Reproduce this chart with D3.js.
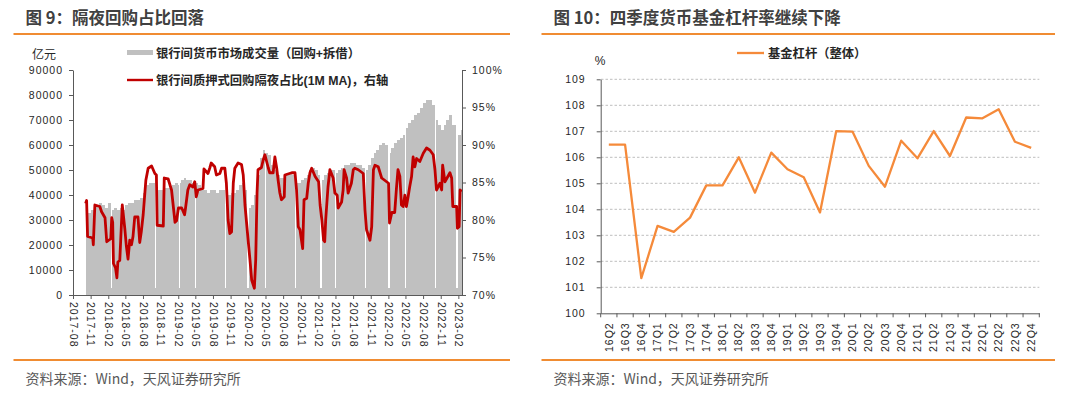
<!DOCTYPE html>
<html>
<head>
<meta charset="utf-8">
<script src="https://cdn.jsdelivr.net/npm/d3@7"></script>
<style>
body { margin: 0; background: #fff; }
svg text { font-family: "Liberation Sans", Arial, "Noto Sans CJK SC", sans-serif; fill: #262626; }
.cn { font-family: "Noto Sans CJK SC", sans-serif; }
.tick text { font-size: 10.5px; letter-spacing: 1px; }
.axis path, .axis line { stroke: #595959; }
</style>
</head>
<body>
<svg id="chart" width="1080" height="393"></svg>
<script>
// ---- figure 9: interbank volume (bars) + overnight share (line)
var volDates = ["2017-10-08","2017-10-16","2017-11-01","2017-11-16","2017-12-01","2017-12-16","2018-01-01","2018-01-16",
  "2018-02-01","2018-02-15","2018-02-22","2018-03-01","2018-03-16","2018-04-01","2018-04-16","2018-05-01","2018-05-16",
  "2018-06-01","2018-06-16","2018-07-01","2018-07-16","2018-08-01","2018-08-16","2018-09-01","2018-09-16","2018-10-01",
  "2018-10-08","2018-10-16","2018-11-01","2018-11-16","2018-12-01","2018-12-16","2019-01-01","2019-01-16","2019-02-01",
  "2019-02-04","2019-02-11","2019-02-16","2019-03-01","2019-03-16","2019-04-01","2019-04-16","2019-05-01","2019-05-05",
  "2019-05-16","2019-06-01","2019-06-16","2019-07-01","2019-07-16","2019-08-01","2019-08-16","2019-09-01","2019-09-16",
  "2019-10-01","2019-10-08","2019-10-16","2019-11-01","2019-11-16","2019-12-01","2019-12-16","2020-01-01","2020-01-16",
  "2020-01-24","2020-02-03","2020-02-16","2020-03-01","2020-03-16","2020-04-01","2020-04-16","2020-05-01","2020-05-06",
  "2020-05-16","2020-06-01","2020-06-16","2020-07-01","2020-07-16","2020-08-01","2020-08-16","2020-09-01","2020-09-16",
  "2020-10-01","2020-10-09","2020-10-16","2020-11-01","2020-11-16","2020-12-01","2020-12-16","2021-01-01","2021-01-16",
  "2021-02-01","2021-02-11","2021-02-18","2021-03-01","2021-03-16","2021-04-01","2021-04-16","2021-05-01","2021-05-06",
  "2021-05-16","2021-06-01","2021-06-16","2021-07-01","2021-07-16","2021-08-01","2021-08-16","2021-09-01","2021-09-16",
  "2021-10-01","2021-10-08","2021-10-16","2021-11-01","2021-11-16","2021-12-01","2021-12-16","2022-01-01","2022-01-16",
  "2022-01-31","2022-02-07","2022-02-16","2022-03-01","2022-03-16","2022-04-01","2022-04-16","2022-04-30","2022-05-05",
  "2022-05-16","2022-06-01","2022-06-16","2022-07-01","2022-07-16","2022-08-01","2022-08-16","2022-09-01","2022-09-16",
  "2022-10-01","2022-10-08","2022-10-16","2022-11-01","2022-11-16","2022-12-01","2022-12-16","2023-01-01","2023-01-21",
  "2023-01-28","2023-02-01","2023-02-16"];
var volValues = [36000,33000,34000,35000,36000,37000,36000,35000,
  37000,3000,34000,35000,34000,35000,34000,36000,37000,
  37000,38000,38000,39000,41000,44000,45000,45000,3000,
  43000,42000,42000,43000,43000,43000,44000,45000,44000,
  3000,45000,46000,47000,46000,46000,45000,3000,45000,
  44000,42000,42000,41000,42000,42000,41000,42000,42000,
  3000,40000,40000,41000,41000,42000,44000,45000,42000,
  3000,35000,36000,40000,48000,55000,58000,3000,57000,
  56000,52000,50000,48000,47000,47000,48000,49000,48000,
  3000,45000,45000,46000,47000,48000,50000,51000,50000,
  48000,3000,46000,48000,49000,50000,50000,3000,49000,
  50000,51000,52000,52000,53000,53000,52000,52000,51000,
  3000,50000,52000,55000,57000,58000,60000,61000,60000,
  3000,57000,59000,61000,62000,63000,64000,3000,67000,
  69000,70000,72000,73000,75000,77000,78000,78000,76000,
  3000,70000,68000,66000,68000,70000,72000,68000,3000,
  62000,64000,66000];
var volEnd = "2023-02-20";

var ovnDates = ["2017-10-06","2017-10-11","2017-10-16","2017-11-12","2017-11-15","2017-11-23","2017-12-19","2017-12-28",
  "2018-01-15","2018-01-24","2018-02-14","2018-02-19","2018-02-24","2018-02-28","2018-03-11","2018-03-18","2018-03-23",
  "2018-04-02","2018-04-10","2018-04-15","2018-04-28","2018-05-06","2018-05-15","2018-05-24","2018-06-02","2018-06-10",
  "2018-06-19","2018-07-06","2018-07-15","2018-07-23","2018-08-02","2018-08-16","2018-08-28","2018-09-15","2018-10-02",
  "2018-10-10","2018-10-14","2018-11-15","2018-11-20","2018-12-10","2018-12-28","2019-01-15","2019-01-23","2019-02-02",
  "2019-02-19","2019-03-06","2019-03-11","2019-03-23","2019-04-02","2019-04-19","2019-04-28","2019-05-06","2019-05-15",
  "2019-06-10","2019-06-15","2019-07-06","2019-07-15","2019-07-23","2019-08-10","2019-08-19","2019-09-06","2019-09-15",
  "2019-10-02","2019-10-10","2019-10-19","2019-10-28","2019-11-06","2019-11-15","2019-11-23","2019-12-10","2019-12-28",
  "2020-01-06","2020-01-15","2020-02-02","2020-02-10","2020-02-19","2020-03-04","2020-03-11","2020-03-18","2020-03-23",
  "2020-04-10","2020-04-19","2020-04-28","2020-05-15","2020-05-23","2020-06-10","2020-06-19","2020-06-28","2020-07-06",
  "2020-07-15","2020-07-23","2020-08-07","2020-08-10","2020-09-15","2020-10-02","2020-10-10","2020-10-19","2020-10-28",
  "2020-11-11","2020-11-18","2020-12-02","2020-12-10","2020-12-19","2020-12-28","2021-01-15","2021-02-02","2021-02-10",
  "2021-02-19","2021-02-28","2021-03-06","2021-03-11","2021-03-23","2021-04-02","2021-04-19","2021-04-28","2021-05-10",
  "2021-05-15","2021-06-02","2021-06-10","2021-06-15","2021-06-28","2021-07-06","2021-07-23","2021-08-02","2021-08-10",
  "2021-08-28","2021-09-23","2021-10-02","2021-10-10","2021-10-28","2021-11-06","2021-11-15","2021-11-23","2021-12-10",
  "2021-12-28","2022-02-02","2022-02-07","2022-02-19","2022-03-06","2022-03-15","2022-03-23","2022-04-02","2022-04-10",
  "2022-04-19","2022-04-28","2022-05-06","2022-05-15","2022-05-23","2022-06-02","2022-06-10","2022-06-19","2022-06-28",
  "2022-07-15","2022-08-02","2022-08-19","2022-09-06","2022-09-23","2022-10-02","2022-10-10","2022-10-28","2022-11-06",
  "2022-11-11","2022-11-23","2022-12-19","2022-12-28","2023-01-03","2023-01-23","2023-01-27","2023-02-05","2023-02-10",
  "2023-02-19"];
var ovnValues = [82.2,82.6,77.8,77.6,76.7,82.0,81.8,81.1,
  80.3,77.1,77.5,80.3,79.7,74.2,73.6,72.3,74.4,
  74.6,79.1,82.0,78.9,76.6,74.8,77.3,76.7,77.8,
  80.4,80.4,77.0,78.4,80.7,85.3,86.9,87.2,86.2,
  86.0,79.3,79.2,85.6,85.5,84.0,79.7,79.9,81.6,
  81.6,80.7,81.6,84.0,84.7,84.4,85.1,83.1,84.0,
  84.2,86.8,86.2,86.9,87.6,87.1,86.0,86.2,86.9,
  86.9,84.9,80.0,78.2,78.4,84.9,86.9,87.6,87.4,
  86.0,82.0,76.9,74.7,72.0,70.9,74.7,83.6,86.7,
  87.0,88.0,88.7,87.0,86.3,86.3,88.4,87.0,85.3,
  83.6,82.7,83.1,86.0,86.3,86.3,84.0,79.1,78.7,
  76.2,82.7,82.9,84.9,86.3,86.9,85.8,85.1,82.0,
  80.0,77.3,77.1,80.0,84.4,86.7,85.6,83.6,83.3,
  81.6,82.4,84.0,86.7,85.6,83.6,84.9,86.7,86.9,
  86.7,86.2,81.3,78.7,77.3,79.1,86.7,87.3,87.1,
  85.6,84.9,79.6,81.0,81.0,84.2,86.7,85.8,82.0,
  81.8,83.3,81.8,83.1,84.4,85.8,88.4,87.1,88.2,
  87.8,88.9,89.6,89.3,88.7,86.7,84.0,84.9,84.0,
  87.3,85.1,86.3,85.6,81.8,81.8,78.9,79.1,84.0,
  83.8];

var xTickLabels = ["2017-08","2017-11","2018-02","2018-05","2018-08","2018-11","2019-02","2019-05","2019-08",
  "2019-11","2020-02","2020-05","2020-08","2020-11","2021-02","2021-05","2021-08","2021-11","2022-02",
  "2022-05","2022-08","2022-11","2023-02"];
var volTicks = [0,10000,20000,30000,40000,50000,60000,70000,80000,90000];
var pctTicks = [70,75,80,85,90,95,100];

// ---- figure 10: money fund leverage
var quarters = ["16Q2","16Q3","16Q4","17Q1","17Q2","17Q3","17Q4","18Q1","18Q2","18Q3","18Q4",
  "19Q1","19Q2","19Q3","19Q4","20Q1","20Q2","20Q3","20Q4","21Q1","21Q2","21Q3","21Q4",
  "22Q1","22Q2","22Q3","22Q4"];
var leverage = [106.49,106.49,101.35,103.36,103.13,103.68,104.92,104.92,106.0,104.64,106.18,
  105.54,105.23,103.88,107.01,106.99,105.67,104.87,106.64,105.96,107.01,106.05,107.53,
  107.5,107.85,106.6,106.36];
var levTicks = [100,101,102,103,104,105,106,107,108,109];

var svg = d3.select("#chart");
var parse = d3.timeParse("%Y-%m-%d");
var orange = "#F08C32";

// headers and footers
function frame(x0, x1, tx, title) {
  svg.append("text").attr("class", "cn").attr("x", tx).attr("y", 23.5)
    .style("font-size", "16.5px").style("font-weight", "bold").style("fill", "#404040").text(title);
  svg.append("line").attr("x1", x0).attr("x2", x1).attr("y1", 34).attr("y2", 34)
    .attr("stroke", orange).attr("stroke-width", 2);
  svg.append("line").attr("x1", x0).attr("x2", x1).attr("y1", 360).attr("y2", 360)
    .attr("stroke", orange).attr("stroke-width", 2);
  svg.append("text").attr("class", "cn").attr("x", tx).attr("y", 384)
    .style("font-size", "14px").style("fill", "#595959").text("资料来源：Wind，天风证券研究所");
}
frame(13.5, 510, 25.5, "图 9：隔夜回购占比回落");
frame(541.5, 1055, 553.5, "图 10：四季度货币基金杠杆率继续下降");

// ===== left chart
var xL = d3.scaleTime().domain([parse("2017-08-01"), parse(volEnd)]).range([73, 462]);
var yVol = d3.scaleLinear().domain([0, 90000]).range([295, 70]);
var yPct = d3.scaleLinear().domain([70, 100]).range([295, 70]);

var vol = volDates.map(function(d, i) {
  return { d0: parse(d), d1: parse(i < volDates.length - 1 ? volDates[i + 1] : volEnd), v: volValues[i] };
});
// snap bar edges to whole pixels so neighbouring bars meet without seams
svg.append("g").attr("shape-rendering", "crispEdges").selectAll("rect").data(vol).enter().append("rect")
  .attr("x", function(d) { return Math.round(xL(d.d0)); })
  .attr("width", function(d) { return Math.max(1, Math.round(xL(d.d1)) - Math.round(xL(d.d0))); })
  .attr("y", function(d) { return yVol(d.v); })
  .attr("height", function(d) { return 295 - yVol(d.v); })
  .attr("fill", "#C0C0C0");

var ovn = ovnDates.map(function(d, i) { return { d: parse(d), v: ovnValues[i] }; });
svg.append("path").datum(ovn)
  .attr("d", d3.line().x(function(d) { return xL(d.d); }).y(function(d) { return yPct(d.v); }))
  .attr("fill", "none").attr("stroke", "#C00000").attr("stroke-width", 2.8).attr("stroke-linejoin", "round");

var fmtM = d3.timeParse("%Y-%m");
svg.append("g").attr("class", "axis").attr("transform", "translate(73,0)")
  .call(d3.axisLeft(yVol).tickValues(volTicks).tickSize(4).tickSizeOuter(0).tickPadding(6).tickFormat(d3.format("d")));
svg.append("g").attr("class", "axis").attr("transform", "translate(462,0)")
  .call(d3.axisRight(yPct).tickValues(pctTicks).tickSize(4).tickSizeOuter(0).tickPadding(6)
    .tickFormat(function(d) { return d + "%"; }));
var xAxL = svg.append("g").attr("class", "axis").attr("transform", "translate(0,295)")
  .call(d3.axisBottom(xL).tickValues(xTickLabels.map(fmtM)).tickSize(4).tickSizeOuter(0)
    .tickFormat(d3.timeFormat("%Y-%m")));
xAxL.selectAll(".tick text").attr("transform", "rotate(90)").attr("x", 7).attr("y", 0)
  .attr("dy", "0.35em").style("text-anchor", "start");
svg.selectAll(".axis .domain").attr("stroke", "#595959");

svg.append("text").attr("x", 44).attr("y", 59).style("text-anchor", "middle").style("font-size", "12px").text("亿元");
svg.append("rect").attr("x", 127).attr("y", 50).attr("width", 26).attr("height", 5).attr("fill", "#C0C0C0");
svg.append("text").attr("x", 156).attr("y", 57.5).style("font-size", "12.3px").style("font-weight", "bold")
  .text("银行间货币市场成交量（回购+拆借）");
svg.append("line").attr("x1", 127).attr("x2", 153).attr("y1", 80).attr("y2", 80)
  .attr("stroke", "#C00000").attr("stroke-width", 2.4);
svg.append("text").attr("x", 156).attr("y", 84.5).style("font-size", "12.3px").style("font-weight", "bold")
  .text("银行间质押式回购隔夜占比(1M MA)，右轴");

// ===== right chart
var xR = d3.scaleBand().domain(quarters).range([600.7, 1039.3]);
var yR = d3.scaleLinear().domain([100, 109]).range([313.3, 79.3]);

svg.append("g").selectAll("line").data(levTicks.slice(1)).enter().append("line")
  .attr("x1", 601).attr("x2", 1039.3)
  .attr("y1", function(d) { return yR(d); }).attr("y2", function(d) { return yR(d); })
  .attr("stroke", "#BFBFBF").attr("stroke-dasharray", "2.5,2");

svg.append("path").datum(leverage)
  .attr("d", d3.line().x(function(d, i) { return xR(quarters[i]) + xR.bandwidth() / 2; }).y(function(d) { return yR(d); }))
  .attr("fill", "none").attr("stroke", "#F58A3A").attr("stroke-width", 2.3).attr("stroke-linejoin", "round");

svg.append("g").attr("class", "axis").attr("transform", "translate(600.7,0)")
  .call(d3.axisLeft(yR).tickValues(levTicks).tickSize(4).tickSizeOuter(0).tickPadding(11).tickFormat(d3.format("d")));
var xAxR = svg.append("g").attr("class", "axis").attr("transform", "translate(0,313.3)")
  .call(d3.axisBottom(xR).tickSize(0).tickSizeOuter(0));
xAxR.selectAll(".tick text").attr("transform", "rotate(-90)").attr("x", -9).attr("y", 0)
  .attr("dy", "0.35em").style("text-anchor", "end");
xAxR.selectAll(".bound").data(quarters.concat(["end"])).enter().append("line").attr("class", "bound")
  .attr("x1", function(d) { return d === "end" ? xR.range()[1] : xR(d); })
  .attr("x2", function(d) { return d === "end" ? xR.range()[1] : xR(d); })
  .attr("y1", 0).attr("y2", 4).attr("stroke", "#595959");
svg.selectAll(".axis .domain").attr("stroke", "#595959");

svg.append("text").attr("x", 600).attr("y", 65).style("text-anchor", "middle").style("font-size", "12px").text("%");
svg.append("line").attr("x1", 737).attr("x2", 764).attr("y1", 53).attr("y2", 53)
  .attr("stroke", "#F58A3A").attr("stroke-width", 2.3);
svg.append("text").attr("x", 768).attr("y", 57.5).style("font-size", "12.3px").style("font-weight", "bold")
  .text("基金杠杆（整体）");
</script>
</body>
</html>
